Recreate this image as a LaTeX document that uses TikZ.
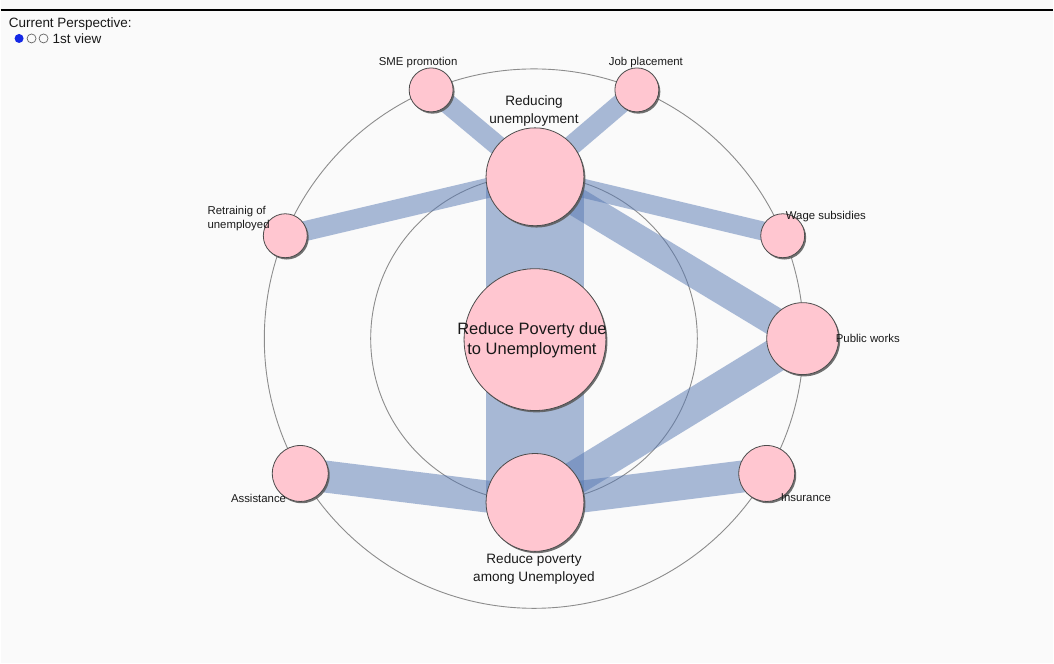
\documentclass[tikz,border=0pt]{standalone}
\usepackage{fontspec}
\setmainfont{Liberation Sans}
\usetikzlibrary{shadows}
\definecolor{bg}{RGB}{250,250,250}
\definecolor{nodepink}{RGB}{255,198,208}
\definecolor{bandblue}{RGB}{86,120,178}
\definecolor{ringgray}{RGB}{140,140,140}
\definecolor{legblue}{RGB}{20,40,230}
\pgfdeclarelayer{backmost}
\pgfdeclarelayer{bands}
\pgfsetlayers{backmost,bands,main}
\tikzset{
 ring/.style={draw=ringgray, line width=0.9pt},
 band/.style={draw=bandblue, draw opacity=0.5, line cap=butt},
 goal/.style={circle, draw=black!70, line width=0.8pt, fill=nodepink, inner sep=0pt,
   drop shadow={shadow xshift=1.5pt, shadow yshift=-1.8pt, fill=black!65, opacity=0.85}},
 lbl/.style={inner sep=0pt, text=black!90, align=center},
 small/.style={lbl, font=\fontsize{11.4}{14}\selectfont},
 mid/.style={lbl, font=\fontsize{13.6}{18}\selectfont},
 legend/.style={lbl, anchor=west, font=\fontsize{13.5}{15}\selectfont},
}
\begin{document}
\begin{tikzpicture}[x=1pt,y=-1pt]
\begin{pgfonlayer}{backmost}
\fill[bg] (0,0) rectangle (1054,664);
\draw[line width=1.2pt] (0,10) -- (1054,10);
\draw[ring] (534,339) circle (270pt);
\draw[ring] (534,339) circle (163.5pt);
\end{pgfonlayer}
\useasboundingbox (0,0) rectangle (1054,664);

% legend
\node[legend] (persp) at (8,24) {Current Perspective:};
\fill[legblue] (18.5,38.5) circle (4.5pt);
\draw[black!60, line width=0.7pt] (31,38.5) circle (4.5pt);
\draw[black!60, line width=0.7pt] (43,38.5) circle (4.5pt);
\node[legend] (view) at (52,38.5) {1st view};

% nodes
\node[goal, minimum size=142pt] (central) at (535,340) {};
\node[goal, minimum size=98pt] (redunemp) at (535,177) {};
\node[goal, minimum size=98pt] (redpov) at (535,503) {};
\node[goal, minimum size=44pt] (sme) at (431,90) {};
\node[goal, minimum size=44pt] (job) at (637,90) {};
\node[goal, minimum size=44pt] (retrain) at (285,236) {};
\node[goal, minimum size=44pt] (wage) at (783,236) {};
\node[goal, minimum size=72pt] (public) at (803,339) {};
\node[goal, minimum size=56pt] (assist) at (300,474) {};
\node[goal, minimum size=56pt] (insur) at (767,474) {};

% bands
\begin{pgfonlayer}{bands}
\draw[band, line width=98pt] (redunemp.center) -- (redpov.center);
\draw[band, line width=20pt] (sme.center) -- (redunemp.center);
\draw[band, line width=20pt] (job.center) -- (redunemp.center);
\draw[band, line width=20pt] (retrain.center) -- (redunemp.center);
\draw[band, line width=19pt] (wage.center) -- (redunemp.center);
\draw[band, line width=29pt] (public.center) -- (redunemp.center);
\draw[band, line width=34pt] (public.center) -- (redpov.center);
\draw[band, line width=32pt] (assist.center) -- (redpov.center);
\draw[band, line width=32pt] (insur.center) -- (redpov.center);
\end{pgfonlayer}

% labels
\node[lbl, font=\fontsize{16.5}{20}\selectfont] (tcentral) at (532,341) {Reduce Poverty due\\to Unemployment};
\node[mid] (tredunemp) at (534,111) {Reducing\\unemployment};
\node[mid] (tredpov) at (534,570) {Reduce poverty\\among Unemployed};
\node[small] (tsme) at (418,63) {SME promotion};
\node[small] (tjob) at (646,63) {Job placement};
\node[small, anchor=west, align=left] (tretrain) at (207,219) {Retrainig of\\unemployed};
\node[small, anchor=west] (twage) at (786,217) {Wage subsidies};
\node[small, anchor=west] (tpublic) at (836,339) {Public works};
\node[small, anchor=east] (tassist) at (286,499) {Assistance};
\node[small, anchor=west] (tinsur) at (781,498) {Insurance};
\end{tikzpicture}
\end{document}
